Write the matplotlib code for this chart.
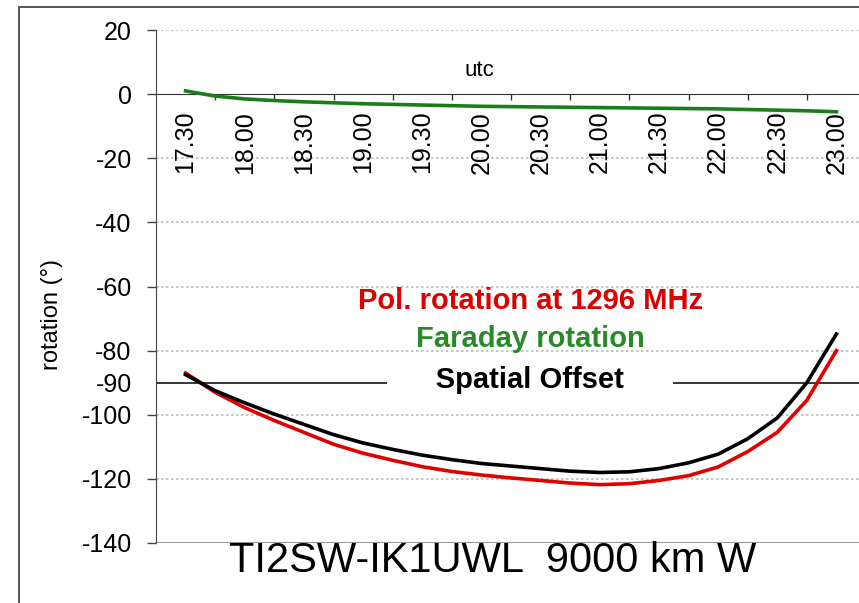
import matplotlib.pyplot as plt
import matplotlib.transforms as mtransforms
from matplotlib.patches import Rectangle
import numpy as np

plt.rcParams['font.family'] = ['Liberation Sans', 'DejaVu Sans']
plt.rcParams['axes.unicode_minus'] = False

# utc (hours), 15 min steps
hours = [17.50, 17.75, 18.00, 18.25, 18.50, 18.75, 19.00, 19.25, 19.50, 19.75,
         20.00, 20.25, 20.50, 20.75, 21.00, 21.25, 21.50, 21.75, 22.00, 22.25,
         22.50, 22.75, 23.00]
pol_rotation = [-87.0, -93.0, -97.8, -101.8, -105.5, -109.2, -112.0, -114.2, -116.2, -117.7,
                -118.8, -119.7, -120.5, -121.3, -121.8, -121.5, -120.5, -119.0, -116.3, -111.5,
                -105.5, -95.5, -80.0]
spatial_offset = [-87.5, -92.5, -96.3, -99.8, -103.0, -106.2, -108.8, -110.8, -112.6, -114.0,
                  -115.2, -116.0, -116.8, -117.6, -118.0, -117.8, -116.8, -115.0, -112.3, -107.5,
                  -101.0, -90.0, -74.8]
faraday = [1.0, -0.6, -1.5, -2.0, -2.4, -2.7, -3.0, -3.2, -3.4, -3.6,
           -3.8, -3.9, -4.0, -4.1, -4.2, -4.3, -4.4, -4.5, -4.6, -4.8,
           -5.0, -5.2, -5.5]

cat_hours = [17.5, 18.0, 18.5, 19.0, 19.5, 20.0, 20.5, 21.0, 21.5, 22.0, 22.5, 23.0]
cat_labels = ['17.30', '18.00', '18.30', '19.00', '19.30', '20.00',
              '20.30', '21.00', '21.30', '22.00', '22.30', '23.00']
offset_level = -90

fig = plt.figure(figsize=(8.59, 6.03), dpi=100)
ax = fig.add_axes([156 / 859, 1 - 543 / 603, 710 / 859, 513 / 603])

ax.plot(hours, pol_rotation, color='#e00000', lw=2.6, zorder=3, solid_joinstyle='round')
ax.plot(hours, spatial_offset, color='black', lw=2.6, zorder=4, solid_joinstyle='round')
ax.plot(hours, faraday, color='#1a7d1a', lw=2.6, zorder=4, solid_joinstyle='round')

ax.set_xlim(cat_hours[0] - 0.25, cat_hours[-1] + 0.25)
ax.set_ylim(-140, 20)

# y axis
ax.set_yticks(np.arange(-140, 21, 20))
ax.set_yticks([offset_level], minor=True)
ax.set_yticklabels(['-90'], minor=True)
ax.tick_params(axis='y', which='major', direction='out', length=6.5, width=1,
               pad=11, labelsize=18, color='#444444')
ax.tick_params(axis='y', which='minor', length=0, pad=17.5, labelsize=18)
for v in np.arange(-120, 21, 20):
    if v != 0:
        ax.axhline(v, color='#bbbbbb', lw=1.2, ls=(0, (1.5, 1.5)), zorder=1)
ax.axhline(-140, color='#999999', lw=1.5, zorder=2)

# x axis (category boundaries get the tick marks)
bounds = [h + 0.25 for h in cat_hours[:-1]]
ax.set_xticks(bounds)
ax.set_xticklabels([])
ax.set_xticks(cat_hours, minor=True)
ax.set_xticklabels(cat_labels, minor=True)
ax.tick_params(axis='x', which='major', direction='out', length=4.5, width=1, color='#333333')
ax.tick_params(axis='x', which='minor', length=0, pad=12, labelsize=18, labelrotation=90)
ax.spines['bottom'].set_position(('data', 0))
ax.spines['bottom'].set_color('#333333')
ax.spines['left'].set_color('#444444')
ax.spines['top'].set_visible(False)
ax.spines['right'].set_visible(False)

# spatial offset reference line
ax.axhline(offset_level, color='black', lw=1.1, zorder=2)

trans = mtransforms.blended_transform_factory(ax.transAxes, ax.transData)
ax.text(0.456, 7.5, 'utc', transform=trans, ha='center', va='center', fontsize=16)
ax.text(0.527, -64.5, 'Pol. rotation at 1296 MHz', transform=trans, ha='center',
        va='center', fontsize=21, fontweight='bold', color='#dd0000', zorder=5)
ax.text(0.527, -76.5, 'Faraday rotation', transform=trans, ha='center',
        va='center', fontsize=21, fontweight='bold', color='#2a8a2a', zorder=5)
ax.text(0.527, -89.3, '      Spatial Offset      ', transform=trans, ha='center',
        va='center', fontsize=21, fontweight='bold', color='black', zorder=5,
        bbox=dict(facecolor='white', edgecolor='none', pad=0))

fig.text(52 / 859, 1 - 315 / 603, 'rotation (°)', rotation=90, ha='center',
         va='center', fontsize=17)
fig.text(493 / 859, 1 - 561 / 603, 'TI2SW-IK1UWL  9000 km W', ha='center',
         va='center', fontsize=30)

fig.patches.append(Rectangle((19 / 859, -0.05), 1.2, 1 - 7 / 603 + 0.05,
                             transform=fig.transFigure, fill=False,
                             edgecolor='#555555', lw=1.4))

fig.savefig('out.png', dpi=100)
